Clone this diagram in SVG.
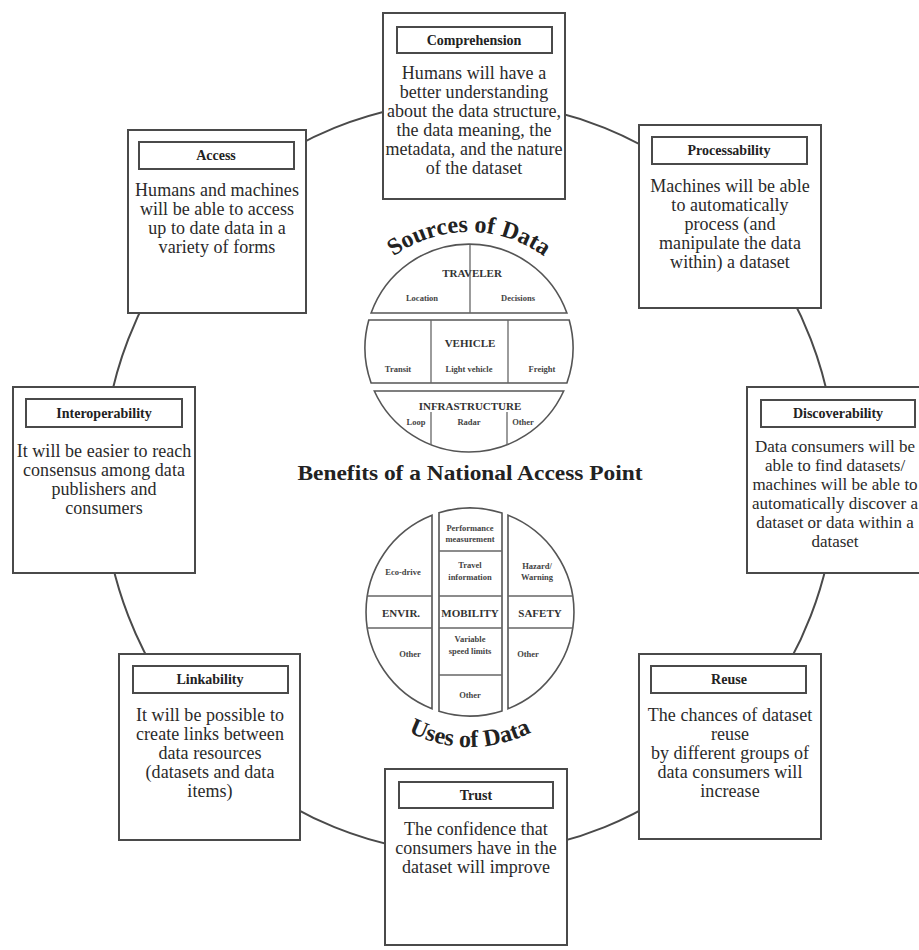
<svg xmlns="http://www.w3.org/2000/svg" width="919" height="950" viewBox="0 0 919 950">
<defs>
<style>
.box{fill:#fff;stroke:#4a4a4a;stroke-width:2}
.tbox{fill:#fff;stroke:#4a4a4a;stroke-width:2}
.title{font-family:"Liberation Serif",serif;font-weight:bold;font-size:14px;fill:#222;text-anchor:middle}
.body{font-family:"Liberation Serif",serif;font-size:18px;letter-spacing:0.05px;fill:#2a2a2a;text-anchor:middle}
.disc{font-size:17px;letter-spacing:0}
.seg{fill:#fff;stroke:#555;stroke-width:1.6}
.div{stroke:#666;stroke-width:1.3;fill:none}
.cap{font-family:"Liberation Serif",serif;font-weight:bold;font-size:11px;fill:#333;text-anchor:middle}
.sm{font-family:"Liberation Serif",serif;font-weight:bold;font-size:8.5px;fill:#444;text-anchor:middle}
.arc{font-family:"Liberation Serif",serif;font-weight:bold;font-size:24px;fill:#222}
.head{font-family:"Liberation Serif",serif;font-weight:bold;font-size:21px;fill:#222;text-anchor:middle}
</style>
<path id="srcArc" d="M341,360 A128,128 0 0 1 597,360"/>
<path id="useArc" d="M335,612 A135,135 0 0 0 605,612"/>
</defs>
<rect width="919" height="950" fill="#fff"/>

<g id="connectors">
<ellipse cx="469.5" cy="477.5" rx="367" ry="376" fill="none" stroke="#4a4a4a" stroke-width="2"/>
</g>

<g id="comprehension">
<rect class="box" x="383" y="13" width="182" height="186"/>
<rect class="tbox" x="397" y="27" width="155" height="26"/>
<text class="title" x="474" y="45">Comprehension</text>
<text class="body" x="474" y="79">Humans will have a</text>
<text class="body" x="474" y="98">better understanding</text>
<text class="body" x="474" y="117">about the data structure,</text>
<text class="body" x="474" y="136">the data meaning, the</text>
<text class="body" x="474" y="155">metadata, and the nature</text>
<text class="body" x="474" y="174">of the dataset</text>
</g>

<g id="access">
<rect class="box" x="128" y="130" width="178" height="183"/>
<rect class="tbox" x="139" y="142" width="155" height="27"/>
<text class="title" x="216" y="160">Access</text>
<text class="body" x="217" y="196">Humans and machines</text>
<text class="body" x="217" y="215">will be able to access</text>
<text class="body" x="217" y="234">up to date data in a</text>
<text class="body" x="217" y="253">variety of forms</text>
</g>

<g id="processability">
<rect class="box" x="639" y="125" width="182" height="183"/>
<rect class="tbox" x="652" y="137" width="155" height="27"/>
<text class="title" x="729" y="155">Processability</text>
<text class="body" x="730" y="192">Machines will be able</text>
<text class="body" x="730" y="211">to automatically</text>
<text class="body" x="730" y="230">process (and</text>
<text class="body" x="730" y="249">manipulate the data</text>
<text class="body" x="730" y="268">within) a dataset</text>
</g>

<g id="interoperability">
<rect class="box" x="13" y="387" width="182" height="186"/>
<rect class="tbox" x="26" y="399" width="156" height="28"/>
<text class="title" x="104" y="418">Interoperability</text>
<text class="body" x="104" y="457">It will be easier to reach</text>
<text class="body" x="104" y="476">consensus among data</text>
<text class="body" x="104" y="495">publishers and</text>
<text class="body" x="104" y="514">consumers</text>
</g>

<g id="discoverability">
<rect class="box" x="747" y="387" width="182" height="186"/>
<rect class="tbox" x="761" y="400" width="154" height="27"/>
<text class="title" x="838" y="418">Discoverability</text>
<text class="body disc" x="835" y="452">Data consumers will be</text>
<text class="body disc" x="835" y="471">able to find datasets/</text>
<text class="body disc" x="835" y="490">machines will be able to</text>
<text class="body disc" x="835" y="509">automatically discover a</text>
<text class="body disc" x="835" y="528">dataset or data within a</text>
<text class="body disc" x="835" y="547">dataset</text>
</g>

<g id="linkability">
<rect class="box" x="119" y="654" width="181" height="186"/>
<rect class="tbox" x="133" y="666" width="155" height="27"/>
<text class="title" x="210" y="684">Linkability</text>
<text class="body" x="210" y="721">It will be possible to</text>
<text class="body" x="210" y="740">create links between</text>
<text class="body" x="210" y="759">data resources</text>
<text class="body" x="210" y="778">(datasets and data</text>
<text class="body" x="210" y="797">items)</text>
</g>

<g id="reuse">
<rect class="box" x="639" y="654" width="182" height="185"/>
<rect class="tbox" x="651" y="666" width="155" height="27"/>
<text class="title" x="729" y="684">Reuse</text>
<text class="body" x="730" y="721">The chances of dataset</text>
<text class="body" x="730" y="740">reuse</text>
<text class="body" x="730" y="759">by different groups of</text>
<text class="body" x="730" y="778">data consumers will</text>
<text class="body" x="730" y="797">increase</text>
</g>

<g id="trust">
<rect class="box" x="385" y="769" width="182" height="176"/>
<rect class="tbox" x="399" y="782" width="154" height="26"/>
<text class="title" x="476" y="800">Trust</text>
<text class="body" x="476" y="835">The confidence that</text>
<text class="body" x="476" y="854">consumers have in the</text>
<text class="body" x="476" y="873">dataset will improve</text>
</g>

<g id="sources-of-data">
<text class="arc"><textPath href="#srcArc" startOffset="50%" text-anchor="middle">Sources of Data</textPath></text>
<path class="seg" d="M371.1,313 A104,104 0 0 1 566.9,313 Z"/>
<line class="div" x1="470" y1="245" x2="470" y2="313"/>
<text class="cap" x="472" y="277">TRAVELER</text>
<text class="sm" x="422" y="301">Location</text>
<text class="sm" x="518" y="301">Decisions</text>
<path class="seg" d="M368.8,320 L569.2,320 A104,104 0 0 1 566.9,383 L371.1,383 A104,104 0 0 1 368.8,320 Z"/>
<line class="div" x1="431" y1="320" x2="431" y2="383"/>
<line class="div" x1="508" y1="320" x2="508" y2="383"/>
<text class="cap" x="470" y="347">VEHICLE</text>
<text class="sm" x="398" y="372">Transit</text>
<text class="sm" x="469" y="372">Light vehicle</text>
<text class="sm" x="542" y="372">Freight</text>
<path class="seg" d="M374.3,391 L563.7,391 A104,104 0 0 1 374.3,391 Z"/>
<line class="div" x1="431" y1="412" x2="431" y2="445"/>
<line class="div" x1="507" y1="412" x2="507" y2="445"/>
<text class="cap" x="470" y="410">INFRASTRUCTURE</text>
<text class="sm" x="416" y="425">Loop</text>
<text class="sm" x="469" y="425">Radar</text>
<text class="sm" x="523" y="425">Other</text>
</g>

<g id="benefits-title">
<text class="head" x="470" y="480" textLength="345" lengthAdjust="spacingAndGlyphs">Benefits of a National Access Point</text>
</g>

<g id="uses-of-data">
<path class="seg" d="M432,515.2 L432,708.8 A104,104 0 0 1 432,515.2 Z"/>
<path class="seg" d="M439,512.7 A104,104 0 0 1 502,513.05 L502,710.95 A104,104 0 0 1 439,711.3 Z"/>
<path class="seg" d="M508,515.2 A104,104 0 0 1 508,708.8 Z"/>
<line class="div" x1="367.2" y1="596" x2="432" y2="596"/>
<line class="div" x1="367.2" y1="628" x2="432" y2="628"/>
<line class="div" x1="439" y1="551" x2="502" y2="551"/>
<line class="div" x1="439" y1="596" x2="502" y2="596"/>
<line class="div" x1="439" y1="628" x2="502" y2="628"/>
<line class="div" x1="439" y1="675" x2="502" y2="675"/>
<line class="div" x1="508" y1="596" x2="572.8" y2="596"/>
<line class="div" x1="508" y1="628" x2="572.8" y2="628"/>
<text class="sm" x="403" y="575">Eco-drive</text>
<text class="cap" x="401" y="617">ENVIR.</text>
<text class="sm" x="410" y="657">Other</text>
<text class="sm" x="470" y="531">Performance</text>
<text class="sm" x="470" y="542">measurement</text>
<text class="sm" x="470" y="568">Travel</text>
<text class="sm" x="470" y="580">information</text>
<text class="cap" x="470" y="617">MOBILITY</text>
<text class="sm" x="470" y="642">Variable</text>
<text class="sm" x="470" y="654">speed limits</text>
<text class="sm" x="470" y="698">Other</text>
<text class="sm" x="537" y="569">Hazard/</text>
<text class="sm" x="537" y="580">Warning</text>
<text class="cap" x="540" y="617">SAFETY</text>
<text class="sm" x="528" y="657">Other</text>
<text class="arc"><textPath href="#useArc" startOffset="50%" text-anchor="middle">Uses of Data</textPath></text>
</g>
</svg>
